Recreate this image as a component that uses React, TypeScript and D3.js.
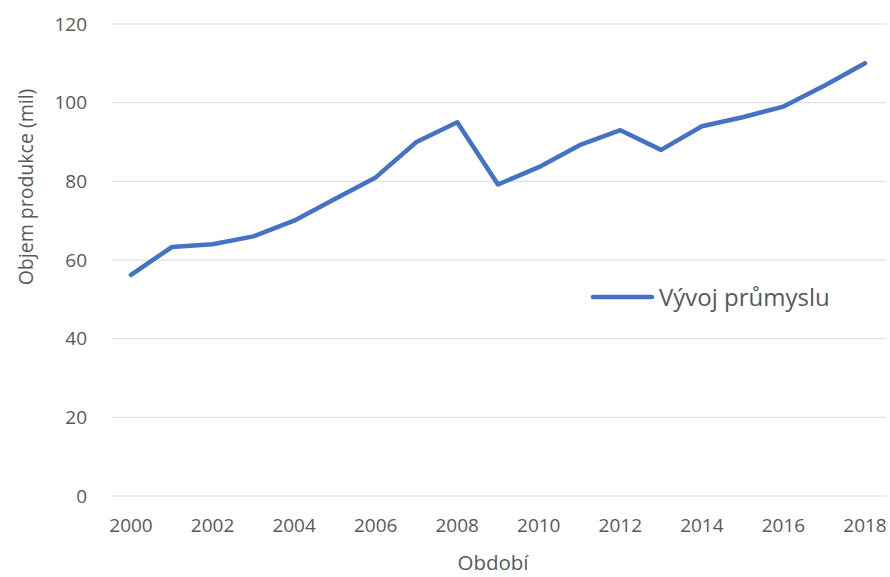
import React from "react";
import * as d3 from "d3";

// Industrial production volume by year
const years: number[] = [2000, 2001, 2002, 2003, 2004, 2005, 2006, 2007, 2008, 2009, 2010, 2011, 2012, 2013, 2014, 2015, 2016, 2017, 2018];
const production: number[] = [56.2, 63.3, 64, 66, 70, 75.5, 81, 90, 95, 79.2, 83.6, 89.2, 93, 88, 94, 96.3, 99, 104.3, 110];
const yTicks: number[] = [0, 20, 40, 60, 80, 100, 120];
const xTicks: number[] = [2000, 2002, 2004, 2006, 2008, 2010, 2012, 2014, 2016, 2018];
const seriesName = "Vývoj průmyslu";
const xTitle = "Období";
const yTitle = "Objem produkce (mil)";

const W = 890;
const H = 577;
const FONT = "'Open Sans', 'Noto Sans', sans-serif";
const TEXT = "#595959";
const LINE = "#4472C4";
const GRID = "#d9d9d9";

export default function App() {
  const x = d3.scaleLinear().domain([2000, 2018]).range([131, 865]);
  const y = d3.scaleLinear().domain([0, 120]).range([496, 24]);
  const gridLeft = 112;
  const gridRight = 886;

  const line = d3
    .line<number>()
    .x((_, i) => x(years[i]))
    .y((d) => y(d));

  return (
    <svg
      width={W}
      height={H}
      viewBox={`0 0 ${W} ${H}`}
      style={{ position: "absolute", left: 0, top: 0, background: "#fff" }}
      fontFamily={FONT}
    >
      {/* horizontal gridlines */}
      {yTicks.map((t) => (
        <line key={`g${t}`} x1={gridLeft} x2={gridRight} y1={y(t)} y2={y(t)} stroke={GRID} strokeWidth={1} />
      ))}
      {/* y tick labels */}
      {yTicks.map((t) => (
        <text key={`y${t}`} x={87} y={y(t)} dy="0.35em" textAnchor="end" fontSize={19} fill={TEXT}>
          {t}
        </text>
      ))}
      {/* x tick labels */}
      {xTicks.map((t) => (
        <text key={`x${t}`} x={x(t)} y={532} textAnchor="middle" fontSize={19} fill={TEXT}>
          {t}
        </text>
      ))}
      {/* axis titles */}
      <text x={493} y={570} textAnchor="middle" fontSize={20.5} fill={TEXT}>
        {xTitle}
      </text>
      <text
        transform={`translate(33, 187) rotate(-90)`}
        textAnchor="middle"
        fontSize={19.5}
        fill={TEXT}
      >
        {yTitle}
      </text>
      {/* series line */}
      <path
        d={line(production) || ""}
        fill="none"
        stroke={LINE}
        strokeWidth={4.5}
        strokeLinejoin="round"
        strokeLinecap="round"
      />
      {/* legend */}
      <line x1={593} x2={652} y1={297} y2={297} stroke={LINE} strokeWidth={4.5} strokeLinecap="round" />
      <text x={659} y={306} fontSize={24} fill={TEXT}>
        {seriesName}
      </text>
    </svg>
  );
}
